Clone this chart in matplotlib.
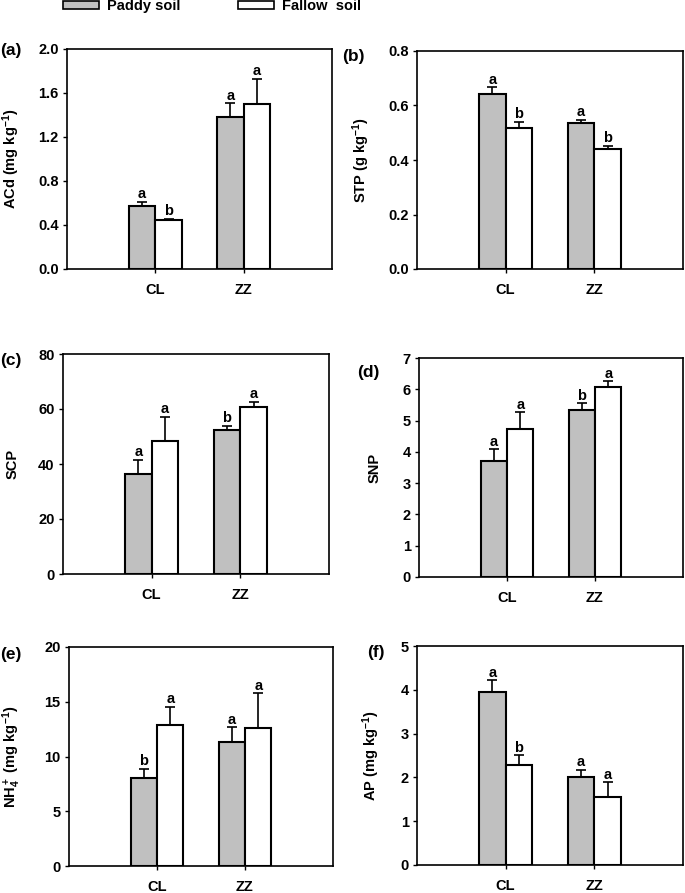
import matplotlib
matplotlib.use("Agg")
import matplotlib.pyplot as plt
from matplotlib.patches import Patch
import numpy as np

plt.rcParams['font.family'] = ['Liberation Sans', 'DejaVu Sans']
plt.rcParams['font.weight'] = 'bold'
plt.rcParams['mathtext.fontset'] = 'custom'
plt.rcParams['mathtext.rm'] = 'Liberation Sans:bold'
plt.rcParams['mathtext.bf'] = 'Liberation Sans:bold'
plt.rcParams['mathtext.default'] = 'bf'

# data
sites = ["CL", "ZZ"]
series = ["Paddy soil", "Fallow  soil"]

acd_paddy = [0.57, 1.385]
acd_paddy_err = [0.04, 0.12]
acd_fallow = [0.445, 1.50]
acd_fallow_err = [0.012, 0.23]
acd_letters = [["a", "a"], ["b", "a"]]

stp_paddy = [0.641, 0.536]
stp_paddy_err = [0.026, 0.011]
stp_fallow = [0.517, 0.44]
stp_fallow_err = [0.024, 0.013]
stp_letters = [["a", "a"], ["b", "b"]]

scp_paddy = [36.5, 52.2]
scp_paddy_err = [5.1, 1.7]
scp_fallow = [48.5, 60.9]
scp_fallow_err = [8.7, 1.8]
scp_letters = [["a", "b"], ["a", "a"]]

snp_paddy = [3.70, 5.35]
snp_paddy_err = [0.38, 0.21]
snp_fallow = [4.74, 6.07]
snp_fallow_err = [0.53, 0.18]
snp_letters = [["a", "b"], ["a", "a"]]

nh4_paddy = [8.0, 11.35]
nh4_paddy_err = [0.9, 1.3]
nh4_fallow = [12.85, 12.6]
nh4_fallow_err = [1.7, 3.2]
nh4_letters = [["b", "a"], ["a", "a"]]

ap_paddy = [3.94, 2.01]
ap_paddy_err = [0.28, 0.16]
ap_fallow = [2.28, 1.56]
ap_fallow_err = [0.23, 0.33]
ap_letters = [["a", "a"], ["b", "a"]]

panels = [
    ("(a)", r"ACd (mg kg$^{-1}$)", acd_paddy, acd_paddy_err, acd_fallow, acd_fallow_err, acd_letters, 2.0, np.arange(0, 2.01, 0.4), "%.1f"),
    ("(b)", r"STP (g kg$^{-1}$)", stp_paddy, stp_paddy_err, stp_fallow, stp_fallow_err, stp_letters, 0.8, np.arange(0, 0.81, 0.2), "%.1f"),
    ("(c)", "SCP", scp_paddy, scp_paddy_err, scp_fallow, scp_fallow_err, scp_letters, 80, np.arange(0, 81, 20), "%d"),
    ("(d)", "SNP", snp_paddy, snp_paddy_err, snp_fallow, snp_fallow_err, snp_letters, 7, np.arange(0, 8, 1), "%d"),
    ("(e)", r"NH$_4^+$ (mg kg$^{-1}$)", nh4_paddy, nh4_paddy_err, nh4_fallow, nh4_fallow_err, nh4_letters, 20, np.arange(0, 21, 5), "%d"),
    ("(f)", r"AP (mg kg$^{-1}$)", ap_paddy, ap_paddy_err, ap_fallow, ap_fallow_err, ap_letters, 5, np.arange(0, 6, 1), "%d"),
]

# axes boxes in pixels: left, top, right, bottom
boxes = [(67, 49, 332, 269), (417, 51, 683, 269),
         (63, 354, 329, 574), (419, 358, 683, 577),
         (69, 647, 333, 866), (417, 646, 683, 865)]
label_x = [-0.170, -0.169, -0.164, -0.141, -0.174, -0.133]
tag_pos = [(0, 50), (342, 56), (0, 360), (357, 372), (0, 655), (367, 653)]

W, H = 685, 893
fig = plt.figure(figsize=(W / 100, H / 100), dpi=100)

gray = "#c0c0c0"
width = 0.3
x = np.arange(1, len(sites) + 1)

for i, (tag, ylab, pv, pe, fv, fe, letters, ymax, yticks, fmt) in enumerate(panels):
    l, t, r, b = boxes[i]
    ax = fig.add_axes([l / W, 1 - b / H, (r - l) / W, (b - t) / H])
    ax.bar(x - width / 2, pv, width, color=gray, edgecolor="black", linewidth=1.5, zorder=2)
    ax.bar(x + width / 2, fv, width, color="white", edgecolor="black", linewidth=1.5, zorder=2)
    ax.errorbar(x - width / 2, pv, yerr=[np.zeros(len(pv)), pe], fmt="none", ecolor="black",
                elinewidth=1.2, capsize=3.5, capthick=1.2, zorder=3)
    ax.errorbar(x + width / 2, fv, yerr=[np.zeros(len(fv)), fe], fmt="none", ecolor="black",
                elinewidth=1.2, capsize=3.5, capthick=1.2, zorder=3)
    for j in range(len(sites)):
        ax.annotate(letters[0][j], (x[j] - width / 2, pv[j] + pe[j]), xytext=(0, 2.5),
                    textcoords="offset points", ha="center", va="baseline", fontsize=10.5, fontweight="bold")
        ax.annotate(letters[1][j], (x[j] + width / 2, fv[j] + fe[j]), xytext=(0, 2.5),
                    textcoords="offset points", ha="center", va="baseline", fontsize=10.5, fontweight="bold")
    ax.set_xlim(0, 3)
    ax.set_ylim(0, ymax)
    ax.set_xticks(x)
    ax.set_xticklabels(sites)
    ax.set_yticks(yticks)
    ax.set_yticklabels([fmt % v for v in yticks])
    ax.tick_params(axis="x", length=3, width=1, direction="out", labelsize=10.5, pad=7)
    ax.tick_params(axis="y", length=3, width=1, direction="out", labelsize=10.5, pad=3)
    for s in ax.spines.values():
        s.set_linewidth(1.2)
    ax.set_ylabel(ylab, fontsize=10.5, fontweight="bold")
    ax.yaxis.set_label_coords(label_x[i], 0.5)
    fig.text(tag_pos[i][0] / W, 1 - tag_pos[i][1] / H, tag, ha="left", va="center",
             fontsize=12.5, fontweight="bold")

handles = [Patch(facecolor=gray, edgecolor="black", linewidth=1.2),
           Patch(facecolor="white", edgecolor="black", linewidth=1.2)]
fig.legend(handles, series, loc="center left", bbox_to_anchor=(63 / W, 1 - 6 / H), ncol=2,
           frameon=False, fontsize=10.5, handlelength=2.5, handleheight=0.45,
           handletextpad=0.55, columnspacing=3.9, borderpad=0, borderaxespad=0)

fig.savefig("out.png", dpi=100)
